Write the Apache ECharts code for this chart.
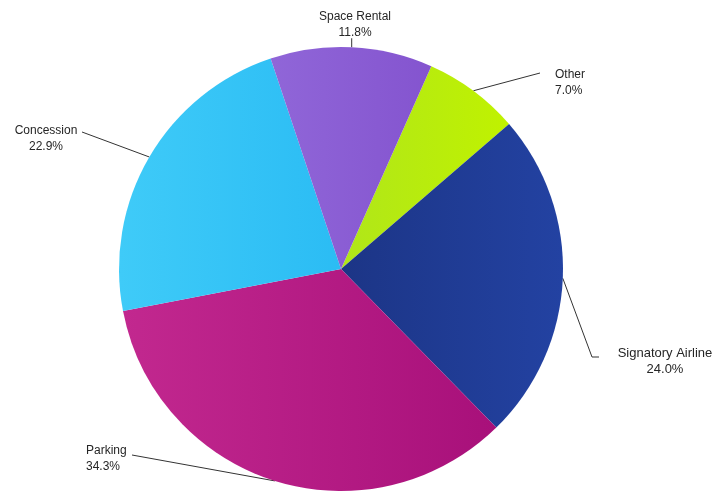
<!DOCTYPE html>
<html>
<head>
<meta charset="utf-8">
<script src="https://cdn.jsdelivr.net/npm/echarts@6/dist/echarts.min.js"></script>
<style>
  html, body { margin: 0; padding: 0; background: #fff; }
  #chart { width: 718px; height: 492px; }
</style>
</head>
<body>
<div id="chart"></div>
<script>
// slice data, clockwise from "Other"
var names = ['Other', 'Signatory Airline', 'Parking', 'Concession', 'Space Rental']
var values = [7.0, 24.0, 34.3, 22.9, 11.8]
var colorsFrom = ['#b0e61a', '#1c3586', '#c2288f', '#3fcbf8', '#9066d8']
var colorsTo = ['#c0f200', '#2342a2', '#a8107a', '#2bbcf4', '#8454cf']

// where each label sits and where its leader line bends
var labelSpots = [
  {x: 555, y: 83, align: 'left', size: 12, bend: [[540, 73]]},
  {x: 665, y: 361, align: 'center', size: 13, bend: [[592, 357], [599, 357]]},
  {x: 86, y: 459, align: 'left', size: 12, bend: [[132, 455]]},
  {x: 46, y: 139, align: 'center', size: 12, bend: [[82, 132]]},
  {x: 355, y: 25, align: 'center', size: 12, bend: null}
]

var chart = echarts.init(document.getElementById('chart'))

var pieData = names.map(function (n, i) {
  return {
    name: n,
    value: values[i],
    label: { fontSize: labelSpots[i].size },
    itemStyle: {
      color: {
        type: 'linear', x: 0, y: 0, x2: 1, y2: 0,
        colorStops: [{offset: 0, color: colorsFrom[i]}, {offset: 1, color: colorsTo[i]}]
      }
    }
  }
})

var option = {
  animation: false,
  series: [
    {
      type: 'pie',
      center: [341, 269],
      radius: 222,
      startAngle: 66,
      clockwise: true,
      avoidLabelOverlap: false,
      silent: true,
      data: pieData,
      label: {
        show: true,
        position: 'outside',
        color: '#262626',
        fontSize: 12,
        lineHeight: 16,
        fontFamily: 'Liberation Sans, Arial, sans-serif',
        formatter: function (p) {
          return p.name + '\n' + p.value.toFixed(1) + '%'
        }
      },
      labelLine: {
        show: true,
        length: 10,
        length2: 10,
        lineStyle: { color: '#333', width: 1 }
      },
      labelLayout: function (params) {
        var spot = labelSpots[params.dataIndex]
        var start = params.labelLinePoints[0]
        var pts = [start].concat(spot.bend || [[start[0], start[1] - 9]])
        return {
          x: spot.x,
          y: spot.y,
          align: spot.align,
          verticalAlign: 'middle',
          labelLinePoints: pts
        }
      }
    }
  ]
}

chart.setOption(option)
</script>
</body>
</html>
